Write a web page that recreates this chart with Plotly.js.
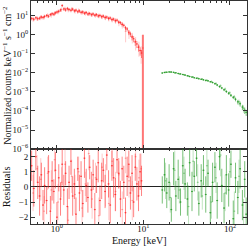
<!DOCTYPE html>
<html>
<head>
<meta charset="utf-8">
<script src="https://cdn.plot.ly/plotly-3.0.1.min.js"></script>
<style>html,body{margin:0;padding:0;background:#fff;}#plot{width:249px;height:248px;}</style>
</head>
<body>
<div id="plot"></div>
<script>
// ---- Red spectrum (dark) ----
var redE = [0.51,0.54,0.57,0.60,0.63,0.66,0.69,0.72,0.76,0.80,0.84,0.88,0.92,0.96,1.00,1.05,1.10,1.15,1.20,1.26,1.32,1.38,1.45,1.52,1.59,1.66,1.74,1.82,1.90,1.99,2.08,2.18,2.28,2.39,2.50,2.62,2.74,2.87,3.00,3.14,3.29,3.44,3.60,3.77,3.95,4.13,4.32,4.52,4.73,4.95,5.18,5.42,5.67,5.93,6.20,6.48,6.77,7.07,7.38,7.70,8.04,8.40,8.77,9.15,9.50];
var redY = [7.2,6.5,7.8,6.9,7.4,8.6,8.0,9.1,10.2,9.4,11.5,12.8,11.9,14.2,15.5,17.0,19.8,34.0,22.5,20.1,24.0,21.2,19.0,22.0,18.1,19.5,16.2,17.8,14.9,15.8,13.5,14.6,12.1,13.0,11.2,12.3,10.5,11.4,9.6,10.3,8.8,9.5,7.9,8.4,7.1,7.6,6.2,6.6,5.4,5.8,4.6,4.3,3.5,3.1,2.3,2.0,1.35,1.1,0.75,0.62,0.42,0.33,0.22,0.15,0.11];
var redErr = [1.5,1.3,1.6,1.4,1.5,1.7,1.6,1.8,2.0,1.9,2.3,2.6,2.4,2.8,3.1,3.4,4.0,6.0,4.5,4.0,4.8,4.2,3.8,4.4,3.6,3.9,3.2,3.6,3.0,3.2,2.7,2.9,2.4,2.6,2.2,2.5,2.1,2.3,1.9,2.1,1.8,1.9,1.6,1.7,1.4,1.5,1.2,1.3,1.1,1.2,0.9,0.9,0.8,0.7,0.6,0.5,0.4,0.35,0.25,0.22,0.16,0.13,0.09,0.07,0.05];
var redRes = [1.4,-0.1,2.0,0.3,-0.6,0.8,-1.2,0.1,-0.9,1.0,-1.6,0.4,-0.3,1.1,-2.0,0.6,-0.8,1.5,-0.2,0.9,-1.3,0.3,1.7,-0.6,0.2,-1.8,1.2,-0.4,0.7,-1.1,1.9,0.1,-0.7,1.3,-0.2,0.8,-1.5,0.5,1.6,-0.9,0.4,1.1,-0.3,2.1,0.2,-1.2,1.4,0.6,-0.5,1.8,0.9,-0.8,1.2,0.3,-1.7,0.7,1.5,-0.4,0.9,-1.0,1.3,0.2,-0.6,1.0,0.4];
var redResErr = [1.0,1.2,0.9,1.1,1.3,0.8,1.0,1.2,0.9,1.1,1.0,1.3,0.8,1.2,1.0,0.9,1.1,1.4,1.0,0.8,1.2,1.1,0.9,1.3,1.0,1.1,0.8,1.2,1.0,0.9,1.3,1.1,1.0,0.8,1.2,1.0,1.1,0.9,1.3,1.0,1.2,0.8,1.1,1.0,0.9,1.2,1.0,1.3,1.1,0.9,1.0,1.2,0.8,1.1,1.0,1.3,0.9,1.1,1.2,1.0,0.9,1.1,1.0,1.2,1.0];

// ---- Red spectrum (light) ----
var redE2 = [0.53,0.59,0.65,0.71,0.78,0.86,0.94,1.03,1.13,1.24,1.35,1.48,1.62,1.78,1.95,2.13,2.33,2.55,2.79,3.05,3.33,3.64,3.98,4.35,4.76,5.20,5.69,6.22,6.80,7.43,8.12,8.87,9.40];
var redY2 = [6.8,7.5,8.2,8.8,10.5,11.0,13.5,16.2,21.0,23.5,20.5,22.8,17.5,19.0,15.2,14.0,13.2,11.8,11.0,10.1,9.2,8.3,7.3,6.5,5.6,4.4,3.4,1.5,1.2,0.8,0.45,0.25,0.14];
var redErr2 = [2.0,2.2,2.4,2.6,3.0,3.2,3.8,4.5,5.5,6.0,5.5,5.8,4.8,5.0,4.2,3.9,3.7,3.3,3.1,2.9,2.7,2.5,2.3,2.1,1.9,1.6,1.3,1.1,0.6,0.45,0.3,0.18,0.11];
var redRes2 = [-0.4,1.2,0.5,-1.6,0.9,-0.2,1.8,-1.0,0.3,1.5,-2.2,0.7,-0.5,1.0,-1.4,0.2,2.2,-0.8,0.6,-1.9,1.3,0.1,-1.1,1.7,-0.3,0.8,-1.5,1.9,0.4,-0.9,2.0,0.6,1.2];
var redResErr2 = [1.2,0.9,1.4,1.0,1.1,1.3,0.8,1.2,1.0,1.4,0.9,1.1,1.3,1.0,1.2,0.8,1.1,1.3,1.0,1.2,0.9,1.4,1.1,1.0,1.3,0.9,1.2,1.0,1.1,1.3,0.9,1.2,1.0];

// ---- Red last bin (cut-off) ----
var dropE = [9.85];
var dropY = [0.2];
var dropUp = [0.8];
var dropLo = [0.2];

// ---- Green spectrum (dark) ----
var greenE = [16.5,17.5,18.6,19.8,21.0,22.3,23.7,25.2,26.8,28.5,30.3,32.2,34.2,36.4,38.7,41.1,43.7,46.5,49.4,52.5,55.8,59.3,63.0,67.0,71.2,75.7,80.5,85.5,90.9,96.6,102.7,109.2,116.0,123.3,131.1,139.3,148.1,154.0];
var greenY = [0.0098,0.0105,0.0108,0.0112,0.0110,0.0106,0.0100,0.0093,0.0088,0.0082,0.0076,0.0070,0.0064,0.0060,0.0055,0.0052,0.0049,0.0046,0.0043,0.0040,0.0038,0.0034,0.0031,0.0027,0.0023,0.0019,0.0016,0.0013,0.00105,0.00085,0.00066,0.00052,0.00041,0.00030,0.00024,0.00016,0.00011,0.000085];
var greenErr = [0.0008,0.0008,0.0008,0.0008,0.0008,0.0007,0.0007,0.0007,0.0006,0.0006,0.0006,0.0005,0.0005,0.0005,0.0004,0.0004,0.0004,0.0004,0.0004,0.0004,0.0004,0.0003,0.0003,0.0003,0.0003,0.00025,0.00022,0.0002,0.00017,0.00015,0.00012,0.0001,0.00009,0.00008,0.00007,0.00005,0.00004,0.00003];
var greenRes = [-0.2,0.8,-0.4,0.3,-1.5,1.2,-0.6,0.5,-1.0,1.4,0.2,-0.8,1.6,-0.3,0.7,1.9,-1.1,0.4,1.1,-0.5,0.9,-1.7,0.3,1.3,-0.9,2.0,0.1,-1.4,0.8,-0.2,1.5,-2.1,0.6,-0.7,1.2,-1.2,0.5,-1.8];
var greenResErr = [0.9,1.1,1.0,1.2,0.8,1.1,1.0,1.3,0.9,1.2,1.0,1.1,0.9,1.3,1.0,1.2,0.8,1.1,1.0,1.2,0.9,1.1,1.3,1.0,1.2,0.9,1.1,1.0,1.3,1.1,0.9,1.2,1.0,1.1,1.3,1.0,1.2,1.1];

// ---- Green spectrum (light) ----
var greenE2 = [18.0,20.4,23.0,26.0,29.4,33.2,37.5,42.4,47.9,54.1,61.1,69.0,78.0,88.1,99.6,112.5,127.1,143.6];
var greenY2 = [0.0107,0.0110,0.0099,0.0088,0.0079,0.0069,0.0061,0.0053,0.0047,0.0041,0.0035,0.0028,0.0021,0.0014,0.00090,0.00055,0.00030,0.00014];
var greenErr2 = [0.0012,0.0012,0.0011,0.0010,0.0009,0.0008,0.0007,0.0006,0.0006,0.0005,0.0005,0.0004,0.0004,0.0003,0.0002,0.00014,0.0001,0.00006];
var greenRes2 = [0.4,-0.7,1.1,-0.2,0.9,-1.3,1.7,0.3,-0.6,1.4,-1.0,0.6,2.1,-0.4,1.0,-1.6,0.7,-2.0];
var greenResErr2 = [1.2,1.0,1.3,0.9,1.1,1.4,1.0,1.2,0.9,1.3,1.1,1.0,1.4,1.2,0.9,1.3,1.1,1.2];

// ---- Tick labels ----
var yMainTickVals = [1e-6,1e-5,1e-4,1e-3,1e-2,1e-1,1,10];
var yMainTickText = ['10<sup>\u22126</sup>','10<sup>\u22125</sup>','10<sup>\u22124</sup>','10<sup>\u22123</sup>','10<sup>\u22122</sup>','10<sup>\u22121</sup>','10<sup>0</sup>','10<sup>1</sup>'];
var xTickVals = [1,10,100];
var xTickText = ['10<sup>0</sup>','10<sup>1</sup>','10<sup>2</sup>'];
var resTickVals = [-2,-1,0,1,2];
var resTickText = ['\u22122','\u22121','0','1','2'];
var xMinorVals = [0.5,0.6,0.7,0.8,0.9,2,3,4,5,6,7,8,9,20,30,40,50,60,70,80,90,200];

var FONT = 'Liberation Serif, DejaVu Serif, serif';
var RED_D = 'rgba(255,30,30,0.55)';
var RED_L = 'rgba(255,90,90,0.32)';
var GRN_D = 'rgba(30,150,30,0.6)';
var GRN_L = 'rgba(60,170,60,0.32)';

function spec(x, y, err, col) {
  return {x:x, y:y, xaxis:'x', yaxis:'y', type:'scatter', mode:'markers',
    marker:{size:1.5, color:col},
    error_y:{type:'data', array:err, color:col, thickness:1, width:0},
    error_x:{type:'percent', value:2.5, color:col, thickness:1, width:0},
    hoverinfo:'skip', showlegend:false};
}
function resid(x, r, err, col) {
  return {x:x, y:r, xaxis:'x2', yaxis:'y2', type:'scatter', mode:'markers',
    marker:{size:1.5, color:col},
    error_y:{type:'data', array:err, color:col, thickness:1, width:0},
    error_x:{type:'percent', value:2.5, color:col, thickness:1, width:0},
    hoverinfo:'skip', showlegend:false};
}

var traces = [
  spec(redE2, redY2, redErr2, RED_L),
  spec(redE, redY, redErr, RED_D),
  {x:dropE, y:dropY, xaxis:'x', yaxis:'y', type:'scatter', mode:'markers',
   marker:{size:1.5, color:'rgba(255,60,60,0.7)'},
   error_y:{type:'data', symmetric:false, array:dropUp, arrayminus:dropLo, color:'rgba(255,60,60,0.7)', thickness:2, width:0},
   hoverinfo:'skip', showlegend:false},
  spec(greenE2, greenY2, greenErr2, GRN_L),
  spec(greenE, greenY, greenErr, GRN_D),
  resid(redE2, redRes2, redResErr2, RED_L),
  resid(redE, redRes, redResErr, RED_D),
  resid(greenE2, greenRes2, greenResErr2, GRN_L),
  resid(greenE, greenRes, greenResErr, GRN_D)
];

var axCommon = {showline:true, linecolor:'#333', linewidth:1, mirror:'allticks',
  ticks:'inside', ticklen:4, tickcolor:'#333', showgrid:false, zeroline:false,
  tickfont:{family:FONT, size:9, color:'#111'}};

var layout = {
  width:249, height:248,
  margin:{l:31, r:2, t:1, b:24, pad:0},
  paper_bgcolor:'#fff', plot_bgcolor:'#fff',
  font:{family:FONT, size:9, color:'#111'},
  xaxis: Object.assign({}, axCommon, {domain:[0,1], anchor:'y', type:'log', range:[-0.30,2.197],
    tickmode:'array', tickvals:xTickVals, ticktext:xTickText, showticklabels:false,
    minor:{tickmode:'array', tickvals:xMinorVals, ticks:'inside', ticklen:2, tickcolor:'#333'}}),
  yaxis: Object.assign({}, axCommon, {domain:[0.336,1], anchor:'x', type:'log', range:[-6,1.77],
    tickmode:'array', tickvals:yMainTickVals, ticktext:yMainTickText}),
  xaxis2: Object.assign({}, axCommon, {domain:[0,1], anchor:'y2', type:'log', range:[-0.30,2.197],
    tickmode:'array', tickvals:xTickVals, ticktext:xTickText, ticklabelstandoff:-4,
    minor:{tickmode:'array', tickvals:xMinorVals, ticks:'inside', ticklen:2, tickcolor:'#333'}}),
  yaxis2: Object.assign({}, axCommon, {domain:[0,0.336], anchor:'x2', range:[-2.45,2.5],
    tickmode:'array', tickvals:resTickVals, ticktext:resTickText,
    zeroline:true, zerolinecolor:'#222', zerolinewidth:1}),
  annotations:[
    {text:'Normalized counts keV<sup>\u22121</sup> s<sup>\u22121</sup> cm<sup>\u22122</sup>', xref:'paper', yref:'paper',
     x:-0.112, y:0.668, xanchor:'center', yanchor:'middle', textangle:-90, showarrow:false,
     font:{family:FONT, size:10, color:'#111'}},
    {text:'Residuals', xref:'paper', yref:'paper', x:-0.112, y:0.168, xanchor:'center', yanchor:'middle',
     textangle:-90, showarrow:false, font:{family:FONT, size:10.5, color:'#111'}},
    {text:'Energy [keV]', xref:'paper', yref:'paper', x:0.5, y:-0.072, xanchor:'center', yanchor:'middle',
     showarrow:false, font:{family:FONT, size:10, color:'#111'}}
  ]
};

Plotly.newPlot('plot', traces, layout, {staticPlot:true, displayModeBar:false});
</script>
</body>
</html>
